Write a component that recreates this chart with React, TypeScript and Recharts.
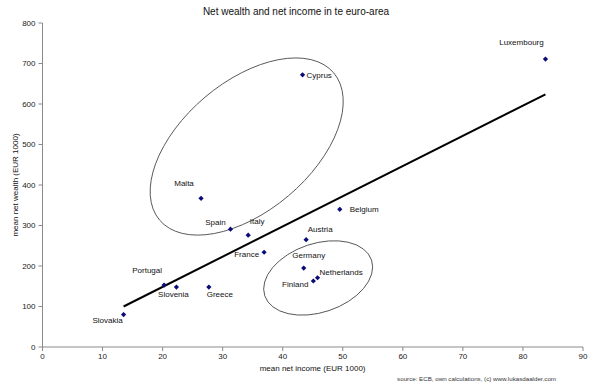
import React from 'react';
import { ScatterChart, Scatter, XAxis, YAxis, ReferenceLine, ReferenceDot } from 'recharts';

const countries = ['Luxembourg', 'Cyprus', 'Malta', 'Spain', 'Italy', 'Belgium', 'Austria', 'France', 'Germany', 'Netherlands', 'Finland', 'Portugal', 'Slovenia', 'Greece', 'Slovakia'];
const income = [83.75, 43.3, 26.4, 31.3, 34.25, 49.5, 43.9, 36.9, 43.5, 45.8, 45.1, 20.25, 22.3, 27.7, 13.5];
const wealth = [711, 672, 367, 291, 276, 340, 265, 234, 195, 171, 163, 153, 148, 148, 80];

const xTicks = [0, 10, 20, 30, 40, 50, 60, 70, 80, 90];
const yTicks = [0, 100, 200, 300, 400, 500, 600, 700, 800];

const trendStart = { x: 13.5, y: 100 };
const trendEnd = { x: 83.75, y: 624 };

// annotation ellipse centres in data units
const ellipseCentres = [
  { x: 34, y: 495 },
  { x: 45.9, y: 170.5 },
];
// ellipse shapes in pixels
const ellipseShapes = [
  { rx: 114, ry: 64.6, rot: -40.2 },
  { rx: 56.3, ry: 34.4, rot: -18.5 },
];

// label placement (pixels relative to the point)
const labelPos: Record<string, { dx: number; dy: number; anchor: 'start' | 'middle' | 'end' }> = {
  Luxembourg: { dx: -24, dy: -17, anchor: 'middle' },
  Cyprus: { dx: 4, dy: 0, anchor: 'start' },
  Malta: { dx: -17, dy: -15, anchor: 'middle' },
  Spain: { dx: -15, dy: -7, anchor: 'middle' },
  Italy: { dx: 9, dy: -14, anchor: 'middle' },
  Belgium: { dx: 10, dy: 0, anchor: 'start' },
  Austria: { dx: 14, dy: -11, anchor: 'middle' },
  France: { dx: -5, dy: 2, anchor: 'end' },
  Germany: { dx: 5, dy: -13, anchor: 'middle' },
  Netherlands: { dx: 2, dy: -6, anchor: 'start' },
  Finland: { dx: -5, dy: 3, anchor: 'end' },
  Portugal: { dx: -17, dy: -15, anchor: 'middle' },
  Slovenia: { dx: -3, dy: 7, anchor: 'middle' },
  Greece: { dx: 11, dy: 7, anchor: 'middle' },
  Slovakia: { dx: -16, dy: 5, anchor: 'middle' },
};

const data = countries.map((name, i) => ({ name, x: income[i], y: wealth[i] }));

const FONT = '"Liberation Sans", Arial, sans-serif';

const PointShape = (props: any) => {
  const { cx, cy, payload } = props;
  if (cx == null || cy == null) return null;
  const s = 2.6;
  const lp = labelPos[payload.name] || { dx: 0, dy: -10, anchor: 'middle' };
  return (
    <g>
      <polygon points={`${cx},${cy - s} ${cx + s},${cy} ${cx},${cy + s} ${cx - s},${cy}`} fill="#0a0a78" />
      <text x={cx + lp.dx} y={cy + lp.dy} dy={3} textAnchor={lp.anchor} fontSize={8} fontFamily={FONT} fill="#111">
        {payload.name}
      </text>
    </g>
  );
};

const makeEllipse = (i: number) => (props: any) => {
  const { cx, cy } = props;
  const e = ellipseShapes[i];
  return (
    <ellipse cx={cx} cy={cy} rx={e.rx} ry={e.ry} transform={`rotate(${e.rot} ${cx} ${cy})`} fill="none" stroke="#555" strokeWidth={0.9} />
  );
};

export default function App() {
  return (
    <div style={{ position: 'absolute', left: 0, top: 0, width: 593, height: 387, background: '#fff' }}>
      <ScatterChart width={593} height={387} margin={{ top: 23, right: 10, bottom: 10, left: 0 }}>
        <XAxis
          type="number"
          dataKey="x"
          domain={[0, 90]}
          ticks={xTicks}
          interval={0}
          stroke="#8a8a8a"
          tickSize={4}
          tickMargin={2}
          height={30}
          tick={{ fontSize: 8, fill: '#222', fontFamily: FONT }}
        />
        <YAxis
          type="number"
          dataKey="y"
          domain={[0, 800]}
          ticks={yTicks}
          interval={0}
          stroke="#8a8a8a"
          tickSize={4}
          tickMargin={3}
          width={42.5}
          tick={{ fontSize: 8, fill: '#222', fontFamily: FONT }}
        />
        {ellipseCentres.map((c, i) => (
          <ReferenceDot key={i} x={c.x} y={c.y} r={1} shape={makeEllipse(i)} ifOverflow="visible" />
        ))}
        <ReferenceLine segment={[trendStart, trendEnd]} stroke="#000" strokeWidth={2} ifOverflow="visible" />
        <Scatter data={data} isAnimationActive={false} shape={<PointShape />} />
      </ScatterChart>
      <svg width={593} height={387} style={{ position: 'absolute', left: 0, top: 0, pointerEvents: 'none' }}>
        <text x={296} y={15} textAnchor="middle" fontSize={10} fontFamily={FONT} fill="#111">Net wealth and net income in te euro-area</text>
        <text x={312.6} y={371} textAnchor="middle" fontSize={8} fontFamily={FONT} fill="#111">mean net income (EUR 1000)</text>
        <text x={18} y={185} textAnchor="middle" fontSize={8} fontFamily={FONT} fill="#111" transform="rotate(-90 18 185)">mean net wealth (EUR 1000)</text>
        <text x={556} y={381} textAnchor="end" fontSize={6.2} fontFamily={FONT} fill="#333">source: ECB, own calculations, (c) www.lukasdaalder.com</text>
      </svg>
    </div>
  );
}
